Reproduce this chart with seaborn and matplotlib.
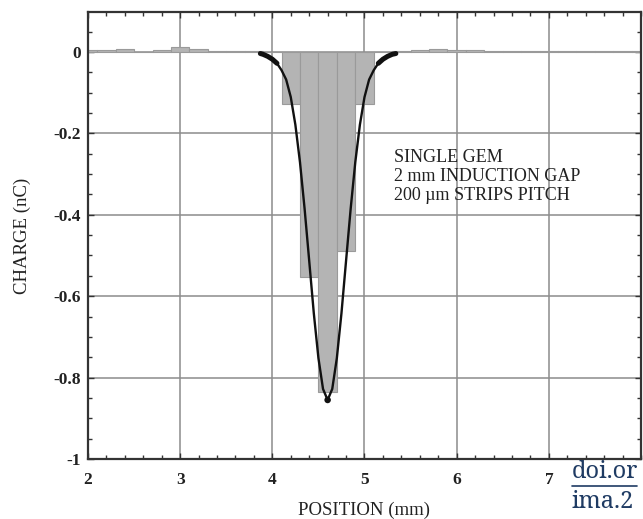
import numpy as np
import pandas as pd
import matplotlib
matplotlib.use("Agg")
import matplotlib.pyplot as plt
from matplotlib.ticker import MultipleLocator
from matplotlib.lines import Line2D
import seaborn as sns

# Charge collected on each 200 um strip (nC), strip centres in mm
strip_pos = [2.0, 2.2, 2.4, 2.6, 2.8, 3.0, 3.2, 3.4, 3.6, 3.8,
             4.0, 4.2, 4.4, 4.6, 4.8, 5.0, 5.2, 5.4, 5.6, 5.8,
             6.0, 6.2, 6.4, 6.6, 6.8, 7.0, 7.2, 7.4, 7.6, 7.8, 8.0]
strip_charge = [0.005, 0.005, 0.006, 0.0, 0.004, 0.011, 0.006, 0.003, 0.002, 0.001,
                0.0, -0.128, -0.553, -0.835, -0.49, -0.128, 0.0, 0.003, 0.004, 0.008,
                0.004, 0.004, 0.001, 0.001, 0.002, 0.001, 0.002, 0.001, 0.002, 0.001, 0.001]

# Fitted charge profile
fit_pos = [3.87, 3.90, 3.95, 4.00, 4.05, 4.10, 4.15, 4.20, 4.25, 4.30, 4.35, 4.40,
           4.45, 4.50, 4.55, 4.60, 4.65, 4.70, 4.75, 4.80, 4.85, 4.90, 4.95, 5.00,
           5.05, 5.10, 5.15, 5.20, 5.25, 5.30, 5.34]
fit_charge = [-0.004, -0.006, -0.011, -0.018, -0.028, -0.045, -0.068, -0.111, -0.179,
              -0.271, -0.385, -0.513, -0.642, -0.752, -0.828, -0.855, -0.828, -0.752,
              -0.642, -0.513, -0.385, -0.271, -0.179, -0.111, -0.068, -0.045, -0.028,
              -0.018, -0.011, -0.006, -0.004]

x_ticks = [2, 3, 4, 5, 6, 7]
y_ticks = [0, -0.2, -0.4, -0.6, -0.8, -1]
y_tick_labels = ["0", "-0.2", "-0.4", "-0.6", "-0.8", "-1"]
note_lines = ["SINGLE GEM", "2 mm INDUCTION GAP", "200 \u00b5m STRIPS PITCH"]

sns.set_style("ticks")
plt.rcParams["font.family"] = ["Liberation Serif", "DejaVu Serif"]

fig = plt.figure(figsize=(6.43, 5.19), dpi=100)
ax = fig.add_axes([88 / 643, 60 / 519, 553 / 643, 447 / 519])

strips = pd.DataFrame({"pos": strip_pos, "charge": strip_charge})
fit = pd.DataFrame({"pos": fit_pos, "charge": fit_charge})

sns.barplot(data=strips, x="pos", y="charge", native_scale=True, width=1.0,
            errorbar=None, color="#b4b4b4", saturation=1, edgecolor="#9a9a9a",
            linewidth=0.8, ax=ax, zorder=2)

sns.lineplot(data=fit, x="pos", y="charge", color="#111111", linewidth=1.7,
             ax=ax, zorder=4)
tails = fit[fit["charge"] > -0.03]
for part in (tails[tails["pos"] < 4.6], tails[tails["pos"] > 4.6]):
    sns.lineplot(data=part, x="pos", y="charge", color="#111111", linewidth=3.6,
                 ax=ax, zorder=4)
peak = fit.loc[[fit["charge"].idxmin()]]
sns.scatterplot(data=peak, x="pos", y="charge", color="#111111", s=22,
                edgecolor="none", ax=ax, zorder=5)

ax.set_xlim(2, 8)
ax.set_ylim(-1, 0.098)
ax.set_xticks(x_ticks)
ax.set_xticklabels([str(t) for t in x_ticks])
ax.set_yticks(y_ticks)
ax.set_yticklabels(y_tick_labels)
ax.xaxis.set_minor_locator(MultipleLocator(0.2))
ax.yaxis.set_minor_locator(MultipleLocator(0.05))
ax.tick_params(which="both", direction="in", top=True, right=True,
               color="#333333", width=1.0)
ax.tick_params(which="major", length=4, labelsize=12.5)
ax.tick_params(axis="x", which="major", pad=9)
ax.tick_params(axis="y", which="major", pad=5)
ax.tick_params(which="minor", length=3)
for lab in ax.get_xticklabels() + ax.get_yticklabels():
    lab.set_fontweight("bold")
    lab.set_color("#222222")

ax.grid(True, which="major", color="#8c8c8c", linewidth=1.1, zorder=0)
ax.set_axisbelow(True)
for sp in ax.spines.values():
    sp.set_color("#333333")
    sp.set_linewidth(1.6)

ax.set_xlabel("POSITION (mm)", fontsize=13.5, color="#222222", labelpad=10)
ax.set_ylabel("CHARGE (nC)", fontsize=13.5, color="#222222", labelpad=16)

ax.text(5.32, -0.307, "\n".join(note_lines), fontsize=13, color="#222222",
        va="center", ha="left", linespacing=1.15, zorder=6)

# web link fragment in the lower right corner
link_font = ["Noto Serif", "Liberation Serif", "DejaVu Serif"]
fig.text(572 / 643, 1 - 472 / 519, "doi.or", fontsize=17, color="#1f3b63",
         va="center", ha="left", family=link_font)
fig.text(572 / 643, 1 - 502 / 519, "ima.2", fontsize=17, color="#1f3b63",
         va="center", ha="left", family=link_font)
fig.add_artist(Line2D([572 / 643, 0.99], [1 - 486 / 519, 1 - 486 / 519],
                      color="#1f3b63", linewidth=1.2, transform=fig.transFigure))

fig.savefig("out.png", dpi=100)
